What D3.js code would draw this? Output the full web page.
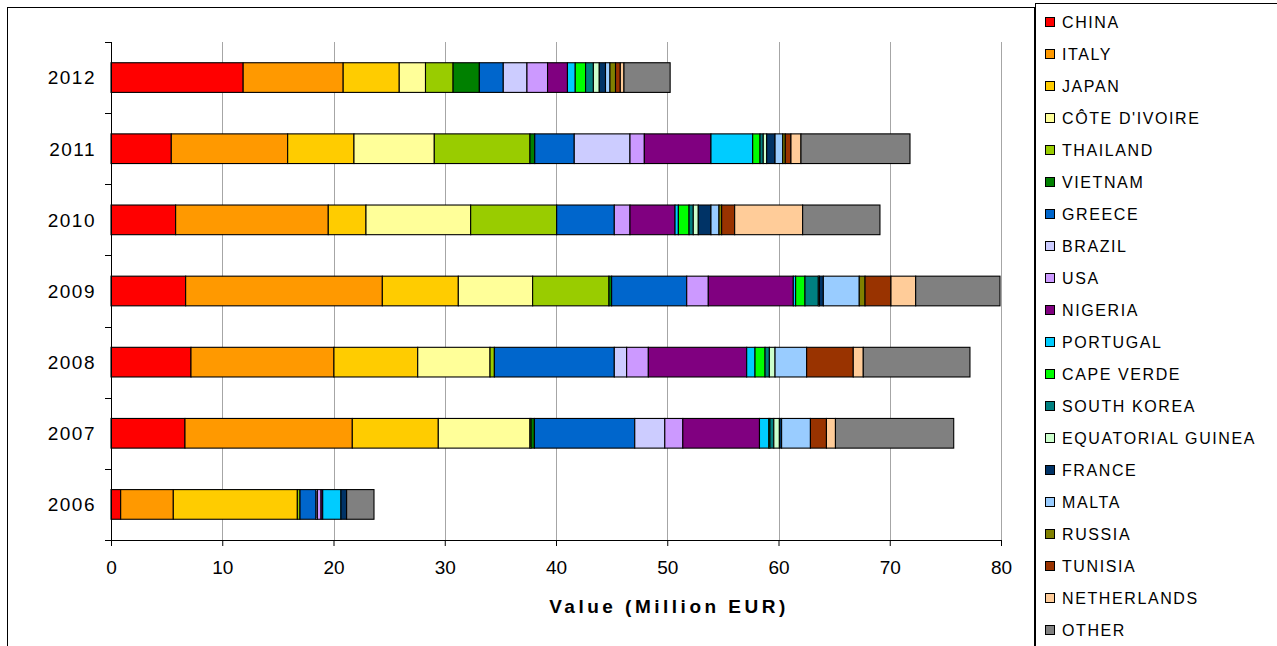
<!DOCTYPE html>
<html>
<head>
<meta charset="utf-8">
<script src="https://cdn.jsdelivr.net/npm/d3@7/dist/d3.min.js"></script>
<style>
  html, body { margin: 0; padding: 0; background: #fff; }
  svg { display: block; font-family: "Liberation Sans", Arial, sans-serif; }
</style>
</head>
<body>
<svg id="chart" width="1277" height="646"></svg>
<script>
// Import value by origin country and year (Million EUR)
const years = ["2012", "2011", "2010", "2009", "2008", "2007", "2006"];
const countries = ["CHINA", "ITALY", "JAPAN", "CÔTE D'IVOIRE", "THAILAND", "VIETNAM", "GREECE",
  "BRAZIL", "USA", "NIGERIA", "PORTUGAL", "CAPE VERDE", "SOUTH KOREA", "EQUATORIAL GUINEA",
  "FRANCE", "MALTA", "RUSSIA", "TUNISIA", "NETHERLANDS", "OTHER"];
const colors = ["#FF0000", "#FF9900", "#FFCC00", "#FFFF99", "#99CC00", "#008000", "#0066CC",
  "#CCCCFF", "#CC99FF", "#800080", "#00CCFF", "#00FF00", "#008080", "#CCFFCC",
  "#003366", "#99CCFF", "#808000", "#993300", "#FFCC99", "#808080"];

// One array per year, values in the order of `countries`
const v2012 = [11.88, 8.99, 5.04, 2.36, 2.48, 2.36, 2.15, 2.13, 1.85, 1.79, 0.70, 0.93, 0.70, 0.53, 0.56, 0.40, 0.50, 0.43, 0.33, 4.15];
const v2011 = [5.42, 10.46, 5.96, 7.22, 8.60, 0.43, 3.55, 5.01, 1.29, 5.99, 3.75, 0.66, 0.29, 0.31, 0.75, 0.69, 0.23, 0.51, 0.90, 9.80];
const v2010 = [5.81, 13.72, 3.39, 9.41, 7.73, 0, 5.18, 0, 1.41, 4.05, 0.30, 0.96, 0.38, 0.45, 1.14, 0.72, 0.24, 1.17, 6.11, 6.95];
const v2009 = [6.71, 17.68, 6.83, 6.68, 6.86, 0.24, 6.75, 0, 1.94, 7.64, 0.21, 0.84, 1.20, 0.10, 0.35, 3.23, 0.52, 2.33, 2.22, 7.58];
const v2008 = [7.19, 12.85, 7.53, 6.50, 0.39, 0, 10.78, 1.11, 1.95, 8.84, 0.75, 0.90, 0.39, 0.51, 0, 2.84, 0, 4.19, 0.90, 9.59];
const v2007 = [6.65, 15.04, 7.73, 8.24, 0.10, 0.30, 9.02, 2.70, 1.62, 6.89, 0.84, 0.10, 0.35, 0.50, 0.20, 2.59, 0, 1.44, 0.81, 10.63];
const v2006 = [0.87, 4.73, 11.15, 0, 0.24, 0, 1.44, 0.12, 0.33, 0.15, 1.64, 0, 0, 0, 0.51, 0, 0, 0, 0, 2.46];
const xTicks = [0, 10, 20, 30, 40, 50, 60, 70, 80];

const valuesByYear = { "2012": v2012, "2011": v2011, "2010": v2010, "2009": v2009,
  "2008": v2008, "2007": v2007, "2006": v2006 };

const rows = years.map(y => {
  const r = { year: y };
  countries.forEach((c, i) => { r[c] = valuesByYear[y][i]; });
  return r;
});

const svg = d3.select("#chart");
const plotLeft = 111, plotRight = 1001, plotTop = 42, plotBottom = 540;

const x = d3.scaleLinear().domain([0, 80]).range([plotLeft, plotRight]);
const y = d3.scaleBand().domain(years).range([plotTop, plotBottom]).paddingInner(0.583).paddingOuter(0.2915);
const yOuter = d3.scaleBand().domain(years).range([plotTop, plotBottom]);

// Chart frame
svg.append("rect").attr("x", 7.5).attr("y", 7.5).attr("width", 1027).attr("height", 700)
  .attr("fill", "none").attr("stroke", "#000").attr("stroke-width", 1);

// Vertical gridlines
svg.append("g").selectAll("line").data(xTicks.slice(1)).join("line")
  .attr("x1", d => Math.round(x(d)) + 0.5).attr("x2", d => Math.round(x(d)) + 0.5)
  .attr("y1", plotTop).attr("y2", plotBottom)
  .attr("stroke", "#a6a6a6").attr("stroke-width", 1);

// Stacked bars
const stack = d3.stack().keys(countries)(rows);
const color = d3.scaleOrdinal().domain(countries).range(colors);

svg.append("g").selectAll("g").data(stack).join("g")
  .attr("fill", d => color(d.key))
  .selectAll("rect").data(d => d.filter(s => s[1] - s[0] > 0)).join("rect")
  .attr("x", d => x(d[0]))
  .attr("width", d => x(d[1]) - x(d[0]))
  .attr("y", d => y(d.data.year))
  .attr("height", y.bandwidth())
  .attr("stroke", "#000").attr("stroke-width", 1.1);

// X axis
const xAxis = d3.axisBottom(x).tickValues(xTicks).tickSize(6).tickPadding(6).tickSizeOuter(0);
const gx = svg.append("g").attr("transform", `translate(0,${plotBottom})`).call(xAxis);
gx.select(".domain").attr("stroke", "#000");
gx.selectAll(".tick line").attr("stroke", "#000");
gx.selectAll("text").attr("font-size", 19).attr("fill", "#000")
  .attr("font-family", "Liberation Sans, Arial, sans-serif").attr("dy", "1.15em");

// Y axis: line with ticks at category boundaries
svg.append("line").attr("x1", plotLeft + 0.5).attr("x2", plotLeft + 0.5).attr("y1", plotTop).attr("y2", plotBottom)
  .attr("stroke", "#000");
const bounds = years.map(yr => yOuter(yr)).concat([plotBottom]);
svg.append("g").selectAll("line").data(bounds).join("line")
  .attr("x1", plotLeft - 6).attr("x2", plotLeft).attr("y1", d => Math.round(d) + 0.5).attr("y2", d => Math.round(d) + 0.5)
  .attr("stroke", "#000");
svg.append("g").selectAll("text").data(years).join("text")
  .attr("x", 96).attr("y", d => y(d) + y.bandwidth() / 2)
  .attr("dy", "0.36em").attr("text-anchor", "end")
  .attr("font-size", 19).attr("letter-spacing", 1.5).attr("fill", "#000")
  .text(d => d);

// X axis title
svg.append("text").attr("x", 669).attr("y", 613).attr("text-anchor", "middle")
  .attr("font-size", 19).attr("font-weight", "bold").attr("letter-spacing", 3.5)
  .text("Value (Million EUR)");

// Legend
const lg = svg.append("g");
lg.append("rect").attr("x", 1035.5).attr("y", 3.5).attr("width", 260).attr("height", 700)
  .attr("fill", "#fff").attr("stroke", "#000");
const items = lg.selectAll("g.item").data(countries).join("g")
  .attr("class", "item")
  .attr("transform", (d, i) => `translate(1045,${22 + i * 32})`);
items.append("rect").attr("x", 0.5).attr("y", -4.5).attr("width", 9).attr("height", 9)
  .attr("fill", d => color(d)).attr("stroke", "#000");
items.append("text").attr("x", 17).attr("y", 0).attr("dy", "0.36em")
  .attr("font-size", 16).attr("letter-spacing", 1.6).attr("fill", "#000")
  .text(d => d);
</script>
</body>
</html>
